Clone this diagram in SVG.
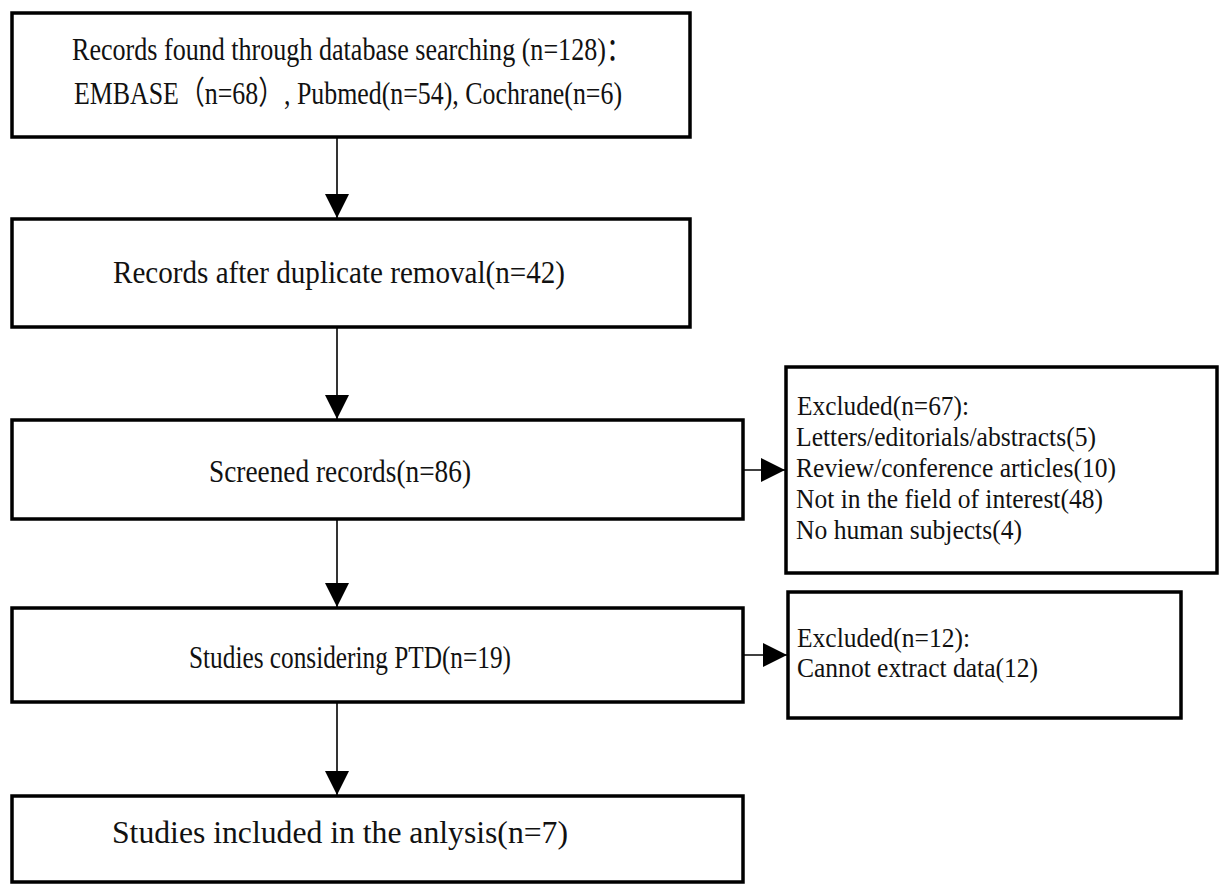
<svg xmlns="http://www.w3.org/2000/svg" width="1219" height="886" viewBox="0 0 1219 886">
<defs>
<style>
.box{fill:#fff;stroke:#000;stroke-width:3.5}
.t{font-family:"Liberation Serif","Times New Roman","Noto Sans CJK SC",serif;font-size:32px;fill:#111}
.c{text-anchor:middle}
.s{font-family:"Liberation Serif","Times New Roman",serif;font-size:27px;fill:#111}
.ln{stroke:#000;stroke-width:1.6;fill:none}
</style>
<marker id="ah" markerWidth="24" markerHeight="24" viewBox="0 0 24 24" refX="24" refY="12" orient="auto" markerUnits="userSpaceOnUse">
<path d="M0,0 L24,12 L0,24 Z" fill="#000"/>
</marker>
</defs>
<rect width="1219" height="886" fill="#fff"/>
<g id="connectors">
<line class="ln" x1="337" y1="137" x2="337" y2="218" marker-end="url(#ah)"/>
<line class="ln" x1="337" y1="327" x2="337" y2="419" marker-end="url(#ah)"/>
<line class="ln" x1="337" y1="519" x2="337" y2="607" marker-end="url(#ah)"/>
<line class="ln" x1="337" y1="702" x2="337" y2="795" marker-end="url(#ah)"/>
<line class="ln" x1="743" y1="470" x2="785" y2="470" marker-end="url(#ah)"/>
<line class="ln" x1="743" y1="655" x2="787" y2="655" marker-end="url(#ah)"/>
</g>
<g id="n1">
<rect class="box" x="12" y="13" width="678" height="124"/>
<text class="t" x="72" y="60" textLength="560" lengthAdjust="spacingAndGlyphs">Records found through database searching (n=128)：</text>
<text class="t" x="74" y="104" textLength="548" lengthAdjust="spacingAndGlyphs">EMBASE（n=68）, Pubmed(n=54), Cochrane(n=6)</text>
</g>
<g id="n2">
<rect class="box" x="12" y="219" width="678" height="108"/>
<text class="t" x="113" y="283" textLength="452" lengthAdjust="spacingAndGlyphs">Records after duplicate removal(n=42)</text>
</g>
<g id="n3">
<rect class="box" x="12" y="420" width="731" height="99"/>
<text class="t c" x="340" y="482" textLength="262" lengthAdjust="spacingAndGlyphs">Screened records(n=86)</text>
</g>
<g id="n4">
<rect class="box" x="786" y="367" width="431" height="206"/>
<text class="s" x="797" y="415" textLength="172" lengthAdjust="spacingAndGlyphs">Excluded(n=67):</text>
<text class="s" x="796" y="446" textLength="300" lengthAdjust="spacingAndGlyphs">Letters/editorials/abstracts(5)</text>
<text class="s" x="796" y="477" textLength="320" lengthAdjust="spacingAndGlyphs">Review/conference articles(10)</text>
<text class="s" x="796" y="508" textLength="307" lengthAdjust="spacingAndGlyphs">Not in the field of interest(48)</text>
<text class="s" x="796" y="539" textLength="226" lengthAdjust="spacingAndGlyphs">No human subjects(4)</text>
</g>
<g id="n5">
<rect class="box" x="12" y="608" width="731" height="94"/>
<text class="t c" x="350" y="668" textLength="322" lengthAdjust="spacingAndGlyphs">Studies considering PTD(n=19)</text>
</g>
<g id="n6">
<rect class="box" x="788" y="592" width="393" height="126"/>
<text class="s" x="797" y="647" textLength="173" lengthAdjust="spacingAndGlyphs">Excluded(n=12):</text>
<text class="s" x="797" y="677" textLength="241" lengthAdjust="spacingAndGlyphs">Cannot extract data(12)</text>
</g>
<g id="n7">
<rect class="box" x="12" y="796" width="731" height="86"/>
<text class="t c" x="340" y="843" textLength="456" lengthAdjust="spacingAndGlyphs">Studies included in the anlysis(n=7)</text>
</g>
</svg>
